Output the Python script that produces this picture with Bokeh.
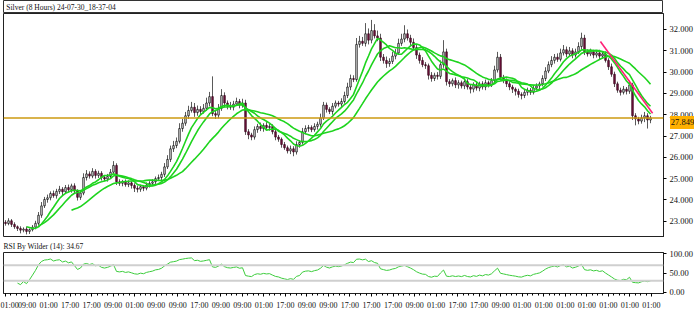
import numpy as np
import pandas as pd
from bokeh.plotting import figure
from bokeh.layouts import column
from bokeh.models import (FixedTicker, Span, Label, NumeralTickFormatter, Range1d, Div)
from bokeh.embed import file_html
from bokeh.resources import INLINE

chart_title = "Silver (8 Hours) 24-07-30_18-37-04"
rsi_title = "RSI By Wilder (14): 34.67"

first_open = 22.95
closes = [
    22.89, 23.02, 22.85, 22.74, 22.66, 22.58, 22.63, 22.52, 22.60, 22.72, 22.90, 23.28,
    23.72, 24.02, 24.10, 24.30, 24.20, 24.40, 24.50, 24.38, 24.58, 24.48, 24.66, 24.42,
    24.12, 24.32, 25.05, 25.22, 25.12, 25.34, 25.15, 25.25, 25.05, 24.98, 25.10, 25.30,
    25.62, 24.85, 24.78, 24.86, 24.72, 24.80, 24.68, 24.55, 24.50, 24.62, 24.55, 24.70,
    24.78, 24.85, 25.00, 25.05, 25.20, 25.55, 25.90, 26.40, 26.55, 26.75, 27.35, 27.60,
    27.95, 28.20, 28.35, 28.10, 28.25, 28.15, 28.30, 28.55, 28.85, 28.05, 27.98, 28.30,
    28.90, 28.55, 28.40, 28.35, 28.50, 28.62, 28.45, 28.55, 27.20, 27.05, 26.95, 27.30,
    27.45, 27.35, 27.50, 27.40, 27.45, 27.20, 26.95, 26.85, 26.60, 26.45, 26.30, 26.40,
    26.25, 26.60, 26.70, 27.20, 27.35, 27.40, 27.30, 27.45, 27.55, 27.85, 28.45, 28.25,
    28.15, 28.40, 28.55, 28.50, 28.62, 28.90, 29.30, 29.70, 29.65, 31.30, 31.45, 31.35,
    31.80, 31.50, 31.95, 31.70, 31.60, 30.70, 30.55, 30.40, 30.50, 30.75, 30.90, 31.35,
    31.55, 31.80, 31.60, 31.40, 31.15, 30.80, 30.55, 30.35, 30.30, 29.85, 29.70, 29.85,
    29.80, 30.35, 30.95, 29.55, 29.45, 29.60, 29.40, 29.50, 29.35, 29.55, 29.30, 29.20,
    29.40, 29.25, 29.45, 29.30, 29.50, 29.40, 29.60, 30.10, 30.70, 29.75, 29.60, 29.45,
    29.30, 29.20, 29.10, 28.95, 28.90, 29.05, 29.15, 29.05, 29.25, 29.35, 29.45, 29.70,
    30.05, 30.35, 30.55, 30.70, 30.60, 30.90, 31.05, 30.85, 31.00, 30.80, 30.95, 31.20,
    31.60, 30.95, 30.85, 30.95, 30.80, 30.90, 30.75, 30.85, 30.55, 30.25, 29.90, 29.45,
    29.15, 29.05, 29.20, 29.10, 29.40, 27.95, 27.80, 27.70, 27.85, 27.95, 27.75, 27.849,
]
upper_wick = [
    .10, .12, .08, .10, .06, .10, .08, .12, .06, .10, .12, .15,
    .18, .12, .15, .10, .14, .12, .16, .10, .12, .14, .10, .12,
    .08, .10, .20, .18, .12, .15, .10, .12, .10, .08, .12, .15,
    .20, .10, .12, .08, .10, .12, .08, .10, .12, .10, .08, .12,
    .10, .12, .10, .14, .12, .18, .20, .15, .22, .18, .25, .20,
    .18, .22, .25, .20, .18, .15, .20, .25, .22, .95, .15, .20,
    .30, .15, .12, .20, .15, .18, .12, .20, .15, .12, .10, .15,
    .12, .18, .10, .15, .12, .10, .12, .10, .08, .12, .10, .15,
    .12, .15, .10, .18, .15, .12, .10, .15, .12, .20, .15, .12,
    .10, .15, .12, .10, .15, .18, .20, .18, .15, .30, .25, .20,
    .50, .25, .50, .30, .25, .20, .15, .18, .15, .20, .18, .22,
    .25, .40, .20, .15, .18, .15, .12, .15, .12, .10, .15, .12,
    .15, .20, .55, .15, .12, .10, .15, .12, .10, .15, .12, .10,
    .12, .15, .10, .12, .15, .10, .12, .20, .25, .15, .12, .10,
    .12, .10, .08, .12, .10, .15, .12, .10, .15, .12, .10, .15,
    .18, .15, .20, .15, .18, .20, .22, .15, .18, .12, .15, .20,
    .25, .15, .12, .15, .10, .12, .15, .10, .12, .10, .15, .12,
    .10, .12, .15, .10, .20, .10, .12, .10, .15, .18, .12, .10,
]
lower_wick = [
    .10, .08, .12, .10, .12, .15, .10, .14, .12, .08, .10, .10,
    .12, .10, .15, .12, .10, .14, .12, .15, .10, .12, .14, .10,
    .15, .12, .10, .14, .12, .10, .15, .12, .14, .10, .12, .10,
    .10, .15, .12, .14, .10, .12, .15, .18, .15, .12, .14, .10,
    .12, .10, .12, .10, .15, .12, .10, .12, .15, .12, .10, .15,
    .12, .15, .10, .20, .15, .12, .10, .12, .15, .12, .18, .15,
    .12, .20, .15, .12, .15, .10, .15, .12, .15, .20, .15, .12,
    .15, .12, .15, .10, .15, .12, .15, .12, .15, .10, .12, .15,
    .20, .12, .15, .10, .12, .15, .12, .10, .15, .12, .10, .15,
    .12, .15, .10, .12, .15, .10, .12, .15, .12, .10, .15, .12,
    .15, .20, .15, .12, .15, .18, .15, .20, .15, .12, .15, .10,
    .12, .15, .12, .15, .12, .18, .15, .12, .15, .20, .15, .12,
    .15, .12, .15, .18, .15, .12, .15, .18, .12, .15, .12, .20,
    .15, .12, .15, .12, .15, .12, .10, .15, .12, .15, .12, .15,
    .15, .18, .20, .15, .18, .12, .15, .12, .10, .12, .15, .12,
    .12, .10, .12, .15, .12, .10, .12, .15, .12, .15, .12, .10,
    .12, .15, .12, .10, .15, .12, .15, .12, .10, .15, .12, .15,
    .12, .15, .10, .15, .12, .20, .30, .15, .12, .20, .40, .15,
]
last_price = 27.849
price_ticks = [23, 24, 25, 26, 27, 28, 29, 30, 31, 32]
rsi_ticks = [0, 50, 100]
rsi_levels = [30, 70]
rsi_period = 14
ma_periods = [8, 12, 23]
time_labels = ["01:00", "09:00", "01:00", "17:00", "17:00", "09:00", "01:00", "09:00",
               "09:00", "17:00", "09:00", "09:00", "01:00", "17:00", "09:00", "09:00",
               "17:00", "17:00", "17:00", "09:00", "01:00", "17:00", "17:00", "09:00",
               "01:00", "01:00", "01:00", "01:00", "01:00", "01:00", "01:00"]
trend_index = [198.3, 215.7]
trend_price = [31.44, 28.07]

FONT = "Liberation Sans Narrow"
n = len(closes)
idx = np.arange(n)
opens = [first_open] + closes[:-1]
o = np.array(opens); c = np.array(closes)
top = np.maximum(o, c); bot = np.minimum(o, c)
highs = top + np.array(upper_wick)
lows = bot - np.array(lower_wick)
up = c >= o

xr = Range1d(-2/3, 219.33)
yr = Range1d(22.235, 32.751)
TITLE_H = 13
FRAME_H = 224

# title bar
tf = figure(width=694, height=TITLE_H, toolbar_location=None, output_backend="svg",
            x_range=Range1d(0, 1), y_range=Range1d(0, 1), min_border=0)
tf.axis.visible = False
tf.grid.visible = False
tf.outline_line_color = "#333333"
tf.add_layout(Label(x=3/694, y=0.45, text=chart_title, text_baseline="middle",
                    text_font=FONT, text_font_size="7.5px", text_color="#111111"))

# main price panel
p = figure(frame_width=660, frame_height=FRAME_H, toolbar_location=None, output_backend="svg",
           x_range=xr, y_range=yr, y_axis_location="right",
           min_border_left=3, min_border_top=0, min_border_bottom=0, min_border_right=4)
p.xaxis.visible = False
p.grid.visible = False
p.outline_line_color = "#222222"
p.outline_line_width = 1
ya = p.yaxis[0]
ya.ticker = FixedTicker(ticks=price_ticks)
ya.formatter = NumeralTickFormatter(format="0.000")
ya.major_label_text_font = FONT
ya.major_label_text_font_size = "8.5px"
ya.major_label_text_color = "#111111"
ya.major_tick_out = 3
ya.major_tick_in = 0
ya.minor_tick_out = 0
ya.major_label_standoff = 3
ya.axis_line_color = "#222222"

p.segment(x0=idx, y0=lows, x1=idx, y1=highs, line_color="#5a5a5a", line_width=1)
p.vbar(x=idx[up], width=0.5, top=top[up], bottom=bot[up], fill_color="white",
       line_color="#111111", line_width=0.8)
p.vbar(x=idx[~up], width=0.5, top=top[~up], bottom=bot[~up], fill_color="#7a1040",
       line_color="#3a0a20", line_width=0.8)

s = pd.Series(closes)
for per in ma_periods:
    ma = s.rolling(per).mean()
    p.line(idx, ma.values, line_color="#1ed41e", line_width=1.6)

p.line(trend_index, trend_price, line_color="#ff2277", line_width=1.6)
p.add_layout(Span(location=last_price, dimension="width", line_color="#cc9a10", line_width=1.5))

# current-price tag in the axis margin, its position taken from the y scale
frac = (yr.end - last_price) / (yr.end - yr.start)
tag_top = TITLE_H + frac * FRAME_H - 6.5
tag = Div(text=f"{last_price:.3f}", width=25, height=13,
          styles={"position": "absolute", "left": "665px", "top": f"{tag_top:.1f}px",
                  "background-color": "#ffb000", "font-family": FONT,
                  "font-size": "8.5px", "line-height": "13px", "color": "#111111",
                  "padding": "0", "text-align": "center", "overflow": "visible",
                  "z-index": "10"})

# RSI panel
d = s.diff()
gain = d.clip(lower=0)
loss = -d.clip(upper=0)
ag = gain.ewm(alpha=1/rsi_period, adjust=True).mean()
al = loss.ewm(alpha=1/rsi_period, adjust=True).mean()
rsi = (100 - 100 / (1 + ag / al)).values

r = figure(frame_width=660, frame_height=41, toolbar_location=None, output_backend="svg",
           x_range=xr, y_range=Range1d(-2.6, 102.6), y_axis_location="right",
           min_border_left=3, min_border_top=0, min_border_bottom=4, min_border_right=4,
           title=rsi_title)
r.title.text_font = FONT
r.title.text_font_size = "7.5px"
r.title.text_font_style = "normal"
r.title.text_color = "#111111"
r.title.standoff = 4
r.title.offset = 0
r.grid.visible = False
r.outline_line_color = "#222222"
for lv in rsi_levels:
    r.add_layout(Span(location=lv, dimension="width", line_color="#cfcfcf", line_width=2))
r.line(idx[4:], rsi[4:], line_color="#3ccc3c", line_width=1)
ry = r.yaxis[0]
ry.ticker = FixedTicker(ticks=rsi_ticks)
ry.formatter = NumeralTickFormatter(format="0.00")
ry.major_label_text_font = FONT
ry.major_label_text_font_size = "8.5px"
ry.major_label_text_color = "#111111"
ry.major_tick_out = 3
ry.major_tick_in = 0
ry.minor_tick_out = 0
ry.major_label_standoff = 3
ry.axis_line_color = "#222222"

step = 215.3 / (len(time_labels) - 1)
tpos = [k * step for k in range(len(time_labels))]
minor = [k * step / 4 for k in range(4 * (len(time_labels) - 1) + 1)]
rx = r.xaxis[0]
rx.ticker = FixedTicker(ticks=tpos, minor_ticks=minor)
rx.major_label_overrides = {t: lab for t, lab in zip(tpos, time_labels)}
rx.major_label_text_font = FONT
rx.major_label_text_font_size = "8px"
rx.major_label_text_color = "#111111"
rx.major_tick_out = 3
rx.major_tick_in = 0
rx.minor_tick_out = 2
rx.minor_tick_in = 0
rx.major_label_standoff = 4
rx.axis_line_color = "#222222"

layout = column(tf, p, r, tag, spacing=0, styles={"position": "relative"})
open("out.html", "w").write(file_html(layout, INLINE))
